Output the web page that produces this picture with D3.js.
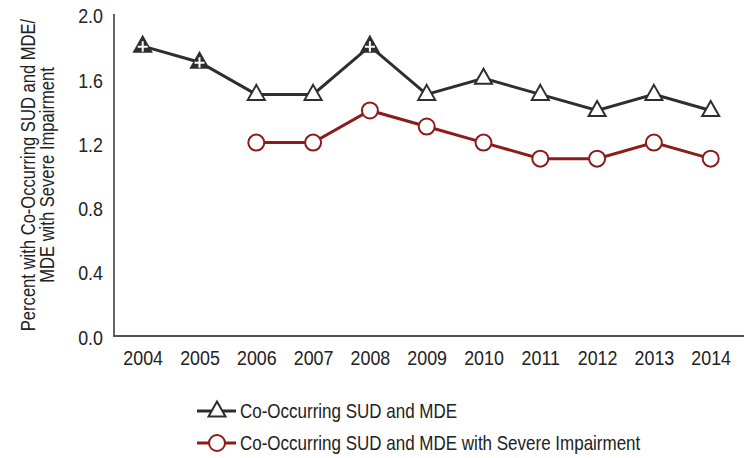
<!DOCTYPE html>
<html><head><meta charset="utf-8">
<script src="https://cdn.jsdelivr.net/npm/d3@7"></script>
<style>
body{margin:0;background:#fff;}
text{font-family:"Liberation Sans Narrow","Liberation Sans",Arial,sans-serif;fill:#222;}
</style></head>
<body><svg id="c" width="744" height="458"></svg>
<script>
const years = [2004,2005,2006,2007,2008,2009,2010,2011,2012,2013,2014];
const sudMde = [1.8,1.7,1.5,1.5,1.8,1.5,1.6,1.5,1.4,1.5,1.4];
const severe = [null,null,1.2,1.2,1.4,1.3,1.2,1.1,1.1,1.2,1.1];
const sigYears = [2004,2005,2008];
const yTicks = [0,0.4,0.8,1.2,1.6,2.0];
const seriesNames = ["Co-Occurring SUD and MDE","Co-Occurring SUD and MDE with Severe Impairment"];
const yTitle = ["Percent with Co-Occurring SUD and MDE/","MDE with Severe Impairment"];

const dark="#2e2e2e", red="#8c1c1c";
const SX=0.85; // condensed look
const svg=d3.select("#c");
const x=d3.scalePoint().domain(years).range([142.7,710.7]);
const y=d3.scaleLinear().domain([0,2]).range([335.5,14]);

// axes
svg.append("line").attr("x1",114).attr("x2",114).attr("y1",14).attr("y2",336).attr("stroke","#333").attr("stroke-width",1.5);
svg.append("line").attr("x1",113).attr("x2",744).attr("y1",336).attr("y2",336).attr("stroke","#555").attr("stroke-width",2);
const yAx=d3.axisLeft(y).tickValues(yTicks).tickFormat(d3.format(".1f")).tickSize(0).tickPadding(0);
const gy=svg.append("g").attr("transform","translate(114,2)").call(yAx);
gy.select(".domain").remove();
gy.selectAll("text").style("font-size","21px").attr("fill","#222").attr("x",-11/SX).attr("transform",`scale(${SX},1)`);
const xAx=d3.axisBottom(x).tickSize(0).tickPadding(14).tickFormat(d3.format("d"));
const gx=svg.append("g").attr("transform","translate(0,336)").call(xAx);
gx.select(".domain").remove();
gx.selectAll("text").style("font-size","21px").attr("fill","#222").attr("transform",`scale(${SX},1)`);

// y title
const t=svg.append("text").attr("transform",`translate(35,175) rotate(-90) scale(0.83,1)`).attr("text-anchor","middle").style("font-size","20px");
t.append("tspan").attr("x",0).attr("dy",0).text(yTitle[0]);
t.append("tspan").attr("x",0).attr("dy",19).text(yTitle[1]);

const tri="M0,-8.5L8.5,6.5L-8.5,6.5Z";
function triangle(g,filled){
  g.append("path").attr("d",tri).attr("fill",filled?dark:"#fff").attr("stroke",dark).attr("stroke-width",2).attr("stroke-linejoin","miter");
  if(filled){
    g.append("path").attr("d","M-5,1.5H5M0,-4V6.5").attr("stroke","#fff").attr("stroke-width",2);
  }
}
const line=d3.line().defined(d=>d.v!=null).x(d=>x(d.yr)).y(d=>y(d.v));
const d1=years.map((yr,i)=>({yr,v:sudMde[i]}));
const d2=years.map((yr,i)=>({yr,v:severe[i]}));

svg.append("path").datum(d1).attr("d",line).attr("fill","none").attr("stroke",dark).attr("stroke-width",3);
svg.append("path").datum(d2).attr("d",line).attr("fill","none").attr("stroke",red).attr("stroke-width",3);

svg.selectAll("g.tri").data(d1).join("g").attr("class","tri")
 .attr("transform",d=>`translate(${x(d.yr)},${y(d.v)-1})`)
 .each(function(d){triangle(d3.select(this),sigYears.includes(d.yr));});
svg.selectAll("circle.pt").data(d2.filter(d=>d.v!=null)).join("circle").attr("class","pt")
 .attr("cx",d=>x(d.yr)).attr("cy",d=>y(d.v)).attr("r",8).attr("fill","#fff").attr("stroke",red).attr("stroke-width",2);

// legend
const lg=[{y:411,c:dark,m:"tri"},{y:443,c:red,m:"circ"}];
lg.forEach((l,i)=>{
  const g=svg.append("g").attr("transform",`translate(0,${l.y})`);
  g.append("line").attr("x1",197).attr("x2",236).attr("y1",0).attr("y2",0).attr("stroke",l.c).attr("stroke-width",3);
  if(l.m==="tri"){const gg=g.append("g").attr("transform","translate(217,-1)");triangle(gg,false);}
  else g.append("circle").attr("cx",217).attr("cy",0).attr("r",8).attr("fill","#fff").attr("stroke",red).attr("stroke-width",2);
  g.append("text").attr("transform",`translate(240,0) scale(${SX},1)`).attr("dy","0.36em").style("font-size","20px").text(seriesNames[i]);
});
</script></body></html>
